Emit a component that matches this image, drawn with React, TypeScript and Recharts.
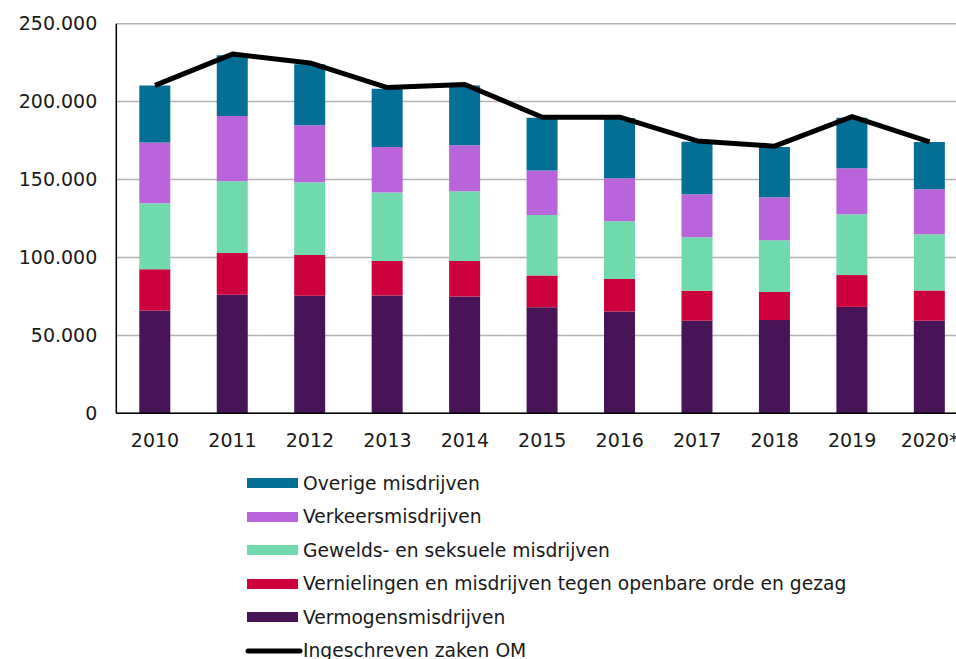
import React from 'react';
import { ComposedChart, Bar, Line, XAxis, YAxis, CartesianGrid, Legend } from 'recharts';

const years = ['2010', '2011', '2012', '2013', '2014', '2015', '2016', '2017', '2018', '2019', '2020*'];
const vermogens = [66000, 76000, 75400, 75600, 75000, 68100, 65400, 59400, 59800, 68300, 59400];
const vernielingen = [26500, 26800, 26100, 22200, 22800, 20400, 20700, 19200, 18100, 20400, 19400];
const gewelds = [42300, 46100, 46800, 43900, 44700, 38800, 37200, 34400, 33200, 39100, 36100];
const verkeers = [38900, 41900, 36500, 29200, 29500, 28500, 27500, 27600, 27600, 29400, 28900];
const overige = [36700, 38900, 39100, 37400, 38400, 33900, 38700, 33700, 32200, 32500, 30300];
const ingeschreven = [210400, 230500, 224800, 209000, 211000, 190000, 190000, 174800, 171400, 190400, 174100];
const yTicks = [0, 50000, 100000, 150000, 200000, 250000];

const seriesNames = {
  overige: 'Overige misdrijven',
  verkeers: 'Verkeersmisdrijven',
  gewelds: 'Gewelds- en seksuele misdrijven',
  vernielingen: 'Vernielingen en misdrijven tegen openbare orde en gezag',
  vermogens: 'Vermogensmisdrijven',
  total: 'Ingeschreven zaken OM',
};

const colors = {
  overige: '#046F95',
  verkeers: '#BA64DC',
  gewelds: '#70D9AD',
  vernielingen: '#CC003C',
  vermogens: '#461457',
  total: '#000000',
};

const data = years.map((y, i) => ({
  year: y,
  vermogens: vermogens[i],
  vernielingen: vernielingen[i],
  gewelds: gewelds[i],
  verkeers: verkeers[i],
  overige: overige[i],
  total: ingeschreven[i],
}));

const FONT = '"DejaVu Sans", Verdana, sans-serif';
const fmt = (v: number) => String(v).replace(/\B(?=(\d{3})+(?!\d))/g, '.');

const legendOrder = ['overige', 'verkeers', 'gewelds', 'vernielingen', 'vermogens', 'total'];

const LegendContent = () => (
  <div style={{ fontFamily: FONT, fontSize: 18.7, color: '#1a1a1a' }}>
    {legendOrder.map((k) => (
      <div key={k} style={{ display: 'flex', alignItems: 'center', height: 33.5, whiteSpace: 'nowrap' }}>
        {k === 'total' ? (
          <svg width={58} height={12} style={{ marginRight: 0 }}>
            <line x1={3} y1={6} x2={55} y2={6} stroke="#000" strokeWidth={5} strokeLinecap="round" />
          </svg>
        ) : (
          <div style={{ width: 51, height: 10, background: (colors as any)[k], marginLeft: 2, marginRight: 5 }} />
        )}
        <span>{(seriesNames as any)[k]}</span>
      </div>
    ))}
  </div>
);

export default function App() {
  return (
    <div style={{ position: 'absolute', left: 0, top: 0, width: 956, height: 659, overflow: 'hidden', background: '#fff' }}>
      <ComposedChart
        width={970}
        height={659}
        data={data}
        margin={{ top: 23.7, right: 1.7, bottom: 205.7, left: 0 }}
      >
        <CartesianGrid horizontal vertical={false} stroke="#b3b3b3" strokeWidth={1.5} />
        <XAxis
          dataKey="year"
          height={40}
          tickLine={false}
          tickMargin={14}
          axisLine={{ stroke: '#000', strokeWidth: 1.5 }}
          tick={{ fontSize: 19, fill: '#1a1a1a', fontFamily: FONT }}
          interval={0}
        />
        <YAxis
          width={116.3}
          domain={[0, 250000]}
          ticks={yTicks}
          tickFormatter={fmt}
          tickLine={false}
          tickMargin={13}
          axisLine={{ stroke: '#000', strokeWidth: 1.5 }}
          tick={{ fontSize: 19, fill: '#1a1a1a', fontFamily: FONT }}
          interval={0}
        />
        <Legend
          layout="vertical"
          align="center"
          verticalAlign="middle"
          wrapperStyle={{ top: 466.25, left: 245, width: 'auto' }}
          content={<LegendContent />}
        />
        <Bar dataKey="vermogens" name={seriesNames.vermogens} stackId="a" fill={colors.vermogens} barSize={31} isAnimationActive={false} />
        <Bar dataKey="vernielingen" name={seriesNames.vernielingen} stackId="a" fill={colors.vernielingen} barSize={31} isAnimationActive={false} />
        <Bar dataKey="gewelds" name={seriesNames.gewelds} stackId="a" fill={colors.gewelds} barSize={31} isAnimationActive={false} />
        <Bar dataKey="verkeers" name={seriesNames.verkeers} stackId="a" fill={colors.verkeers} barSize={31} isAnimationActive={false} />
        <Bar dataKey="overige" name={seriesNames.overige} stackId="a" fill={colors.overige} barSize={31} isAnimationActive={false} />
        <Line
          dataKey="total"
          name={seriesNames.total}
          type="linear"
          stroke={colors.total}
          strokeWidth={5}
          dot={false}
          activeDot={false}
          strokeLinejoin="round"
          isAnimationActive={false}
        />
      </ComposedChart>
    </div>
  );
}
